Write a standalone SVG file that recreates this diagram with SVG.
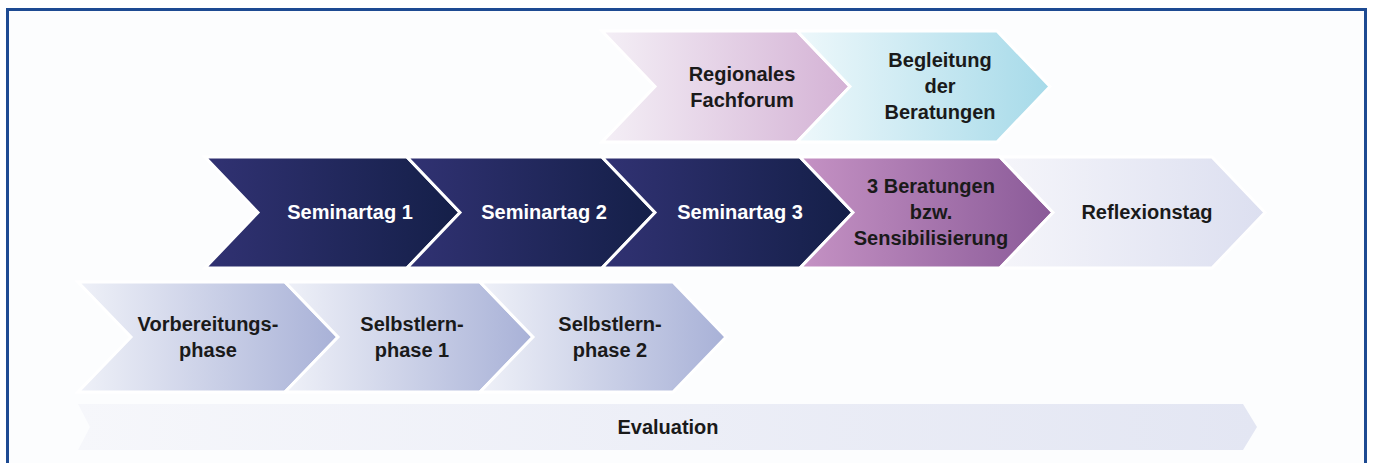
<svg xmlns="http://www.w3.org/2000/svg" width="1373" height="463" viewBox="0 0 1373 463">
<style>
.ch{stroke:#ffffff;stroke-width:3;stroke-linejoin:miter}
.t{font-family:"Liberation Sans",Arial,sans-serif;font-weight:bold;font-size:20px;text-anchor:middle;fill:#1a1a1a}
.wt{fill:#ffffff}
</style>
<defs>
<linearGradient id="gNavy" x1="0" x2="1" y1="0" y2="0"><stop offset="0" stop-color="#313273"/><stop offset="1" stop-color="#141f48"/></linearGradient>
<linearGradient id="gPurple" x1="0" x2="1" y1="0" y2="0"><stop offset="0" stop-color="#c592c4"/><stop offset="1" stop-color="#8a5a98"/></linearGradient>
<linearGradient id="gRefl" x1="0" x2="1" y1="0" y2="0"><stop offset="0" stop-color="#f5f5fa"/><stop offset="1" stop-color="#dcdff0"/></linearGradient>
<linearGradient id="gReg" x1="0" x2="1" y1="0" y2="0"><stop offset="0" stop-color="#f4eff6"/><stop offset="1" stop-color="#d4b2d5"/></linearGradient>
<linearGradient id="gBeg" x1="0" x2="1" y1="0" y2="0"><stop offset="0" stop-color="#eef8fb"/><stop offset="1" stop-color="#a6dae9"/></linearGradient>
<linearGradient id="gLow" x1="0" x2="1" y1="0" y2="0"><stop offset="0" stop-color="#eff1f8"/><stop offset="1" stop-color="#a8b1d7"/></linearGradient>
<linearGradient id="gEval" x1="0" x2="1" y1="0" y2="0"><stop offset="0" stop-color="#f6f7fb"/><stop offset="1" stop-color="#e3e6f3"/></linearGradient>
</defs>
<rect x="0" y="0" width="1373" height="463" fill="#ffffff"/>
<rect x="7.5" y="9.5" width="1358" height="470" fill="#fcfdfe" stroke="#1d4a92" stroke-width="3"/>

<g id="regionales-fachforum">
<path class="ch" d="M602,31 L797,31 L850,86.5 L797,142 L602,142 L655,86.5 Z" fill="url(#gReg)"/>
<text class="t" x="742" y="81">Regionales</text>
<text class="t" x="742" y="107">Fachforum</text>
</g>
<g id="begleitung">
<path class="ch" d="M797,31 L997,31 L1050,86.5 L997,142 L797,142 L850,86.5 Z" fill="url(#gBeg)"/>
<text class="t" x="940" y="67">Begleitung</text>
<text class="t" x="940" y="93">der</text>
<text class="t" x="940" y="119">Beratungen</text>
</g>

<g id="seminartag1">
<path class="ch" d="M205,157 L407,157 L460,212.5 L407,268 L205,268 L258,212.5 Z" fill="url(#gNavy)"/>
<text class="t wt" x="350" y="219">Seminartag 1</text>
</g>
<g id="seminartag2">
<path class="ch" d="M407,157 L602,157 L655,212.5 L602,268 L407,268 L460,212.5 Z" fill="url(#gNavy)"/>
<text class="t wt" x="544" y="219">Seminartag 2</text>
</g>
<g id="seminartag3">
<path class="ch" d="M602,157 L800,157 L853,212.5 L800,268 L602,268 L655,212.5 Z" fill="url(#gNavy)"/>
<text class="t wt" x="740" y="219">Seminartag 3</text>
</g>
<g id="beratungen">
<path class="ch" d="M800,157 L1000,157 L1053,212.5 L1000,268 L800,268 L853,212.5 Z" fill="url(#gPurple)"/>
<text class="t" x="931" y="193">3 Beratungen</text>
<text class="t" x="931" y="219">bzw.</text>
<text class="t" x="931" y="245">Sensibilisierung</text>
</g>
<g id="reflexionstag">
<path class="ch" d="M1000,157 L1212,157 L1265,212.5 L1212,268 L1000,268 L1053,212.5 Z" fill="url(#gRefl)"/>
<text class="t" x="1147" y="219">Reflexionstag</text>
</g>

<g id="vorbereitungsphase">
<path class="ch" d="M78,282 L285,282 L338,337 L285,392 L78,392 L131,337 Z" fill="url(#gLow)"/>
<text class="t" x="208" y="331">Vorbereitungs-</text>
<text class="t" x="208" y="357">phase</text>
</g>
<g id="selbstlernphase1">
<path class="ch" d="M285,282 L480,282 L533,337 L480,392 L285,392 L338,337 Z" fill="url(#gLow)"/>
<text class="t" x="412" y="331">Selbstlern-</text>
<text class="t" x="412" y="357">phase 1</text>
</g>
<g id="selbstlernphase2">
<path class="ch" d="M480,282 L673,282 L726,337 L673,392 L480,392 L533,337 Z" fill="url(#gLow)"/>
<text class="t" x="610" y="331">Selbstlern-</text>
<text class="t" x="610" y="357">phase 2</text>
</g>

<g id="evaluation">
<path d="M78,404 L1243,404 L1257,427 L1243,450 L78,450 L90,427 Z" fill="url(#gEval)"/>
<text class="t" x="668" y="434">Evaluation</text>
</g>
<g id="connectors"></g>
</svg>
